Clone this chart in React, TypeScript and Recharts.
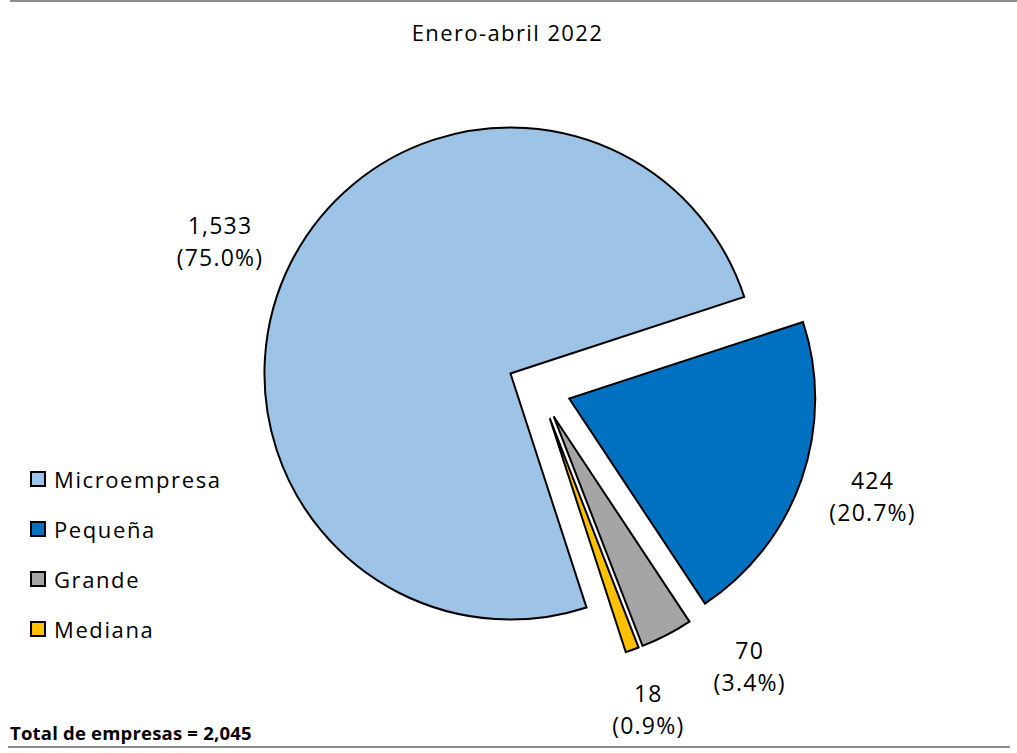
import React from 'react';
import { PieChart, Pie, Cell } from 'recharts';

// Datos: empresas por tamaño, enero-abril 2022
const categorias = ['Microempresa', 'Pequeña', 'Grande', 'Mediana'];
const empresas = [1533, 424, 70, 18];
const porcentajes = ['75.0%', '20.7%', '3.4%', '0.9%'];
const colores = ['#9DC3E6', '#0070C0', '#A5A5A5', '#FFC000'];
const titulo = 'Enero-abril 2022';
const totalTexto = 'Total de empresas = 2,045';

const data = categorias.map((name, i) => ({ name, value: empresas[i], pct: porcentajes[i] }));

const W = 1017;
const H = 753;
const CX = 534;
const CY = 383;
const R = 246;
const EXPLODE = 32;
const START = -72;
const RAD = Math.PI / 180;
const FONT = '"Open Sans", sans-serif';

// ajustes finos de las etiquetas (px)
const labelNudge = [
  [-2, 17],
  [8, -2],
  [55, -28],
  [-3, -4],
];

const suma = empresas.reduce((a, b) => a + b, 0);
const midAngles = empresas.map((v, i) => {
  const antes = empresas.slice(0, i).reduce((a, b) => a + b, 0);
  return START - (360 * (antes + v / 2)) / suma;
});

const centro = (i: number) => ({
  x: CX + EXPLODE * Math.cos(-midAngles[i] * RAD),
  y: CY + EXPLODE * Math.sin(-midAngles[i] * RAD),
});

const App = () => {
  return (
    <div style={{ position: 'absolute', left: 0, top: 0, width: W, height: H, background: '#fff', fontFamily: FONT }}>
      <div style={{ position: 'absolute', left: 10, right: 0, top: 0, height: 2, background: '#8c8c8c' }} />
      <div style={{ position: 'absolute', left: 8, width: 1002, top: 746, height: 2, background: '#8c8c8c' }} />
      <div style={{ position: 'absolute', left: 0, width: W - 2, top: 17, textAlign: 'center', fontSize: 22, letterSpacing: 1.4, color: '#000' }}>
        {titulo}
      </div>

      <PieChart width={W} height={H} style={{ position: 'absolute', left: 0, top: 0 }}>
        {categorias.map((cat, k) => {
          const c = centro(k);
          return (
            <Pie
              key={cat}
              data={data}
              dataKey="value"
              nameKey="name"
              cx={c.x}
              cy={c.y}
              outerRadius={R}
              startAngle={START}
              endAngle={START - 360}
              isAnimationActive={false}
              labelLine={false}
              label={(p: any) => {
                if (p.index !== k) return <g />;
                const r = R + 72;
                const x = c.x + r * Math.cos(-midAngles[k] * RAD) + labelNudge[k][0];
                const y = c.y + r * Math.sin(-midAngles[k] * RAD) + labelNudge[k][1];
                return (
                  <g>
                    <text x={x} y={y - 16} textAnchor="middle" dominantBaseline="central" fontSize={23} letterSpacing={1.2} fill="#000" fontFamily={FONT}>
                      {empresas[k].toLocaleString('en-US')}
                    </text>
                    <text x={x} y={y + 16} textAnchor="middle" dominantBaseline="central" fontSize={23} letterSpacing={1.2} fill="#000" fontFamily={FONT}>
                      ({porcentajes[k]})
                    </text>
                  </g>
                );
              }}
            >
              {data.map((d, i) => (
                <Cell
                  key={d.name}
                  fill={i === k ? colores[i] : 'none'}
                  stroke={i === k ? '#000' : 'none'}
                  strokeWidth={2}
                />
              ))}
            </Pie>
          );
        })}
      </PieChart>

      {categorias.map((cat, i) => (
        <div
          key={cat}
          style={{ position: 'absolute', left: 30, top: 479 + i * 50 - 15, height: 30, display: 'flex', alignItems: 'center' }}
        >
          <div style={{ width: 12, height: 12, background: colores[i], border: '2px solid #000', marginRight: 8 }} />
          <span style={{ fontSize: 22, letterSpacing: 1.6, color: '#000' }}>{cat}</span>
        </div>
      ))}

      <div style={{ position: 'absolute', left: 10, top: 720, fontSize: 18.5, letterSpacing: 0.2, fontWeight: 700, color: '#000' }}>
        {totalTexto}
      </div>
    </div>
  );
};

export default App;
